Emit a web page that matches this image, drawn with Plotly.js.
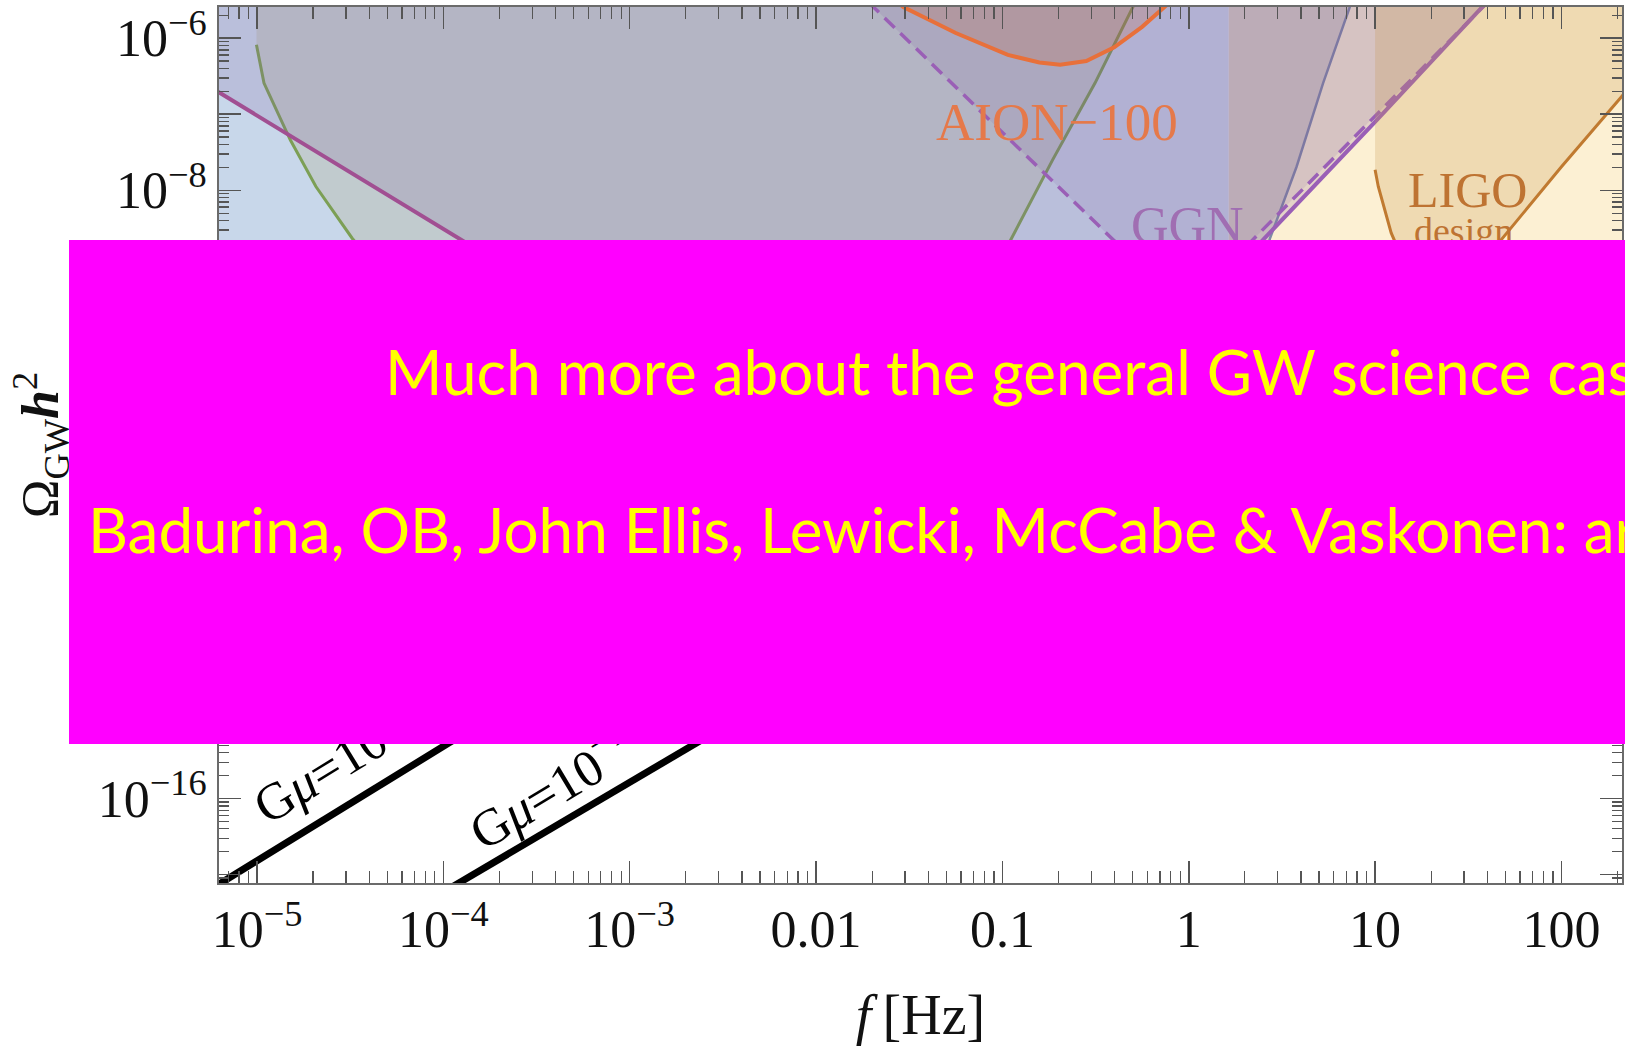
<!DOCTYPE html>
<html><head><meta charset="utf-8">
<script src="https://cdn.plot.ly/plotly-3.0.1.min.js"></script>
<style>html,body{margin:0;padding:0;background:#fff;overflow:hidden}#chart{width:1625px;height:1046px}</style>
</head><body><div id="chart"></div>
<script>
// ---------- data (frequency in Hz, Omega_GW h^2) ----------
const bandEdgeHz = 1.64;
const bandTop = 1e-5, bandBottom = 1e-13;

// green (LISA-like) sensitivity curve
const lisaF = [9.93e-6, 1.09e-5, 1.51e-5, 2.07e-5, 3.24e-5, 6.31e-5, 1.58e-4, 5.01e-4, 2.00e-3, 6.31e-3, 2.00e-2, 5.01e-2, 0.112, 0.186, 0.314, 0.504, 0.631];
const lisaO = [8.20e-7, 2.57e-7, 4.57e-8, 1.12e-8, 2.34e-9, 3.16e-10, 3.16e-11, 3.98e-12, 1.26e-12, 1e-12, 2.51e-12, 5.01e-11, 2.34e-9, 2.51e-8, 2.57e-7, 2.57e-6, 7.94e-6];

// purple broad sensitivity (left and right branches)
const purpleLeftF = [5.01e-6, 6.31e-6, 1.20e-4, 1e-3, 1e-2, 3.98e-2, 0.1];
const purpleLeftO = [2.69e-7, 1.91e-7, 2.34e-9, 1e-10, 3.16e-12, 6.31e-13, 3.98e-13];
const purpleRightF = [0.1, 0.316, 1, 2.51, 10, 38.0, 63.1];
const purpleRightO = [3.98e-13, 1e-11, 2.0e-10, 2.24e-9, 7.94e-8, 2.57e-6, 1e-5];

// GGN (dashed)
const ggnF = [1.58e-2, 2.03e-2, 0.1, 0.393, 0.955, 2.21, 10, 37.9, 50.1];
const ggnO = [4.68e-6, 2.57e-6, 5.75e-8, 2.24e-9, 2.75e-10, 2.24e-9, 9.55e-8, 2.57e-6, 5.13e-6];

// AION-100
const aion100F = [2.51e-2, 2.94e-2, 5.62e-2, 0.107, 0.158, 0.204, 0.282, 0.398, 0.562, 0.746, 0.832];
const aion100O = [3.55e-6, 2.57e-6, 1.17e-6, 6.03e-7, 4.79e-7, 4.47e-7, 5.01e-7, 7.59e-7, 1.41e-6, 2.57e-6, 3.31e-6];

// grey-blue curve
const greyF = [1.78, 2.24, 2.73, 3.79, 5.26, 7.33, 8.13];
const greyO = [3.16e-11, 3.98e-10, 2.34e-9, 2.04e-8, 2.57e-7, 2.57e-6, 5.37e-6];

// LIGO design
const ligoF = [10, 10.4, 12.2, 15.8, 22.4, 31.6, 47.6, 100, 210, 316];
const ligoO = [1.86e-8, 1.12e-8, 2.75e-9, 6.31e-10, 3.55e-10, 5.01e-10, 2.24e-9, 2.04e-8, 1.70e-7, 5.62e-7];

// cosmic string spectra
const string1F = [5.01e-6, 1.14e-4, 3.16e-4];
const string1O = [5.37e-18, 5.89e-16, 2.75e-15];
const string2F = [1e-4, 2.29e-3, 6.31e-3];
const string2O = [5.89e-18, 5.37e-16, 2.34e-15];

// ticks
const xTickVals = [1e-5, 1e-4, 1e-3, 1e-2, 0.1, 1, 10, 100];
const xTickText = ['10<sup>−5</sup>', '10<sup>−4</sup>', '10<sup>−3</sup>', '0.01', '0.1', '1', '10', '100'];
const yTickVals = [1e-6, 1e-7, 1e-8, 1e-9, 1e-10, 1e-11, 1e-12, 1e-13, 1e-14, 1e-15, 1e-16, 1e-17];
const yTickText = ['10<sup>−6</sup>', '', '10<sup>−8</sup>', '', '', '', '', '', '', '', '10<sup>−16</sup>', ''];

// texts
const line1Text = 'Much more about the general GW science case';
const line2Text = 'Badurina, OB, John Ellis, Lewicki, McCabe &amp; Vaskonen: arXiv';

// ---------- build ----------
function minorTicks(d0, d1) {
  const out = [];
  for (let d = d0; d <= d1; d++) for (let m = 2; m <= 9; m++) out.push(m * Math.pow(10, d));
  return out;
}
const SERIF = 'Liberation Serif, Times New Roman, serif';

function poly(xs, ys, color) {
  return {x: xs, y: ys, mode: 'none', fill: 'toself', fillcolor: color, hoverinfo: 'skip', type: 'scatter'};
}
function line(xs, ys, color, width, dash) {
  return {x: xs, y: ys, mode: 'lines', line: {color: color, width: width, dash: dash || 'solid'}, hoverinfo: 'skip', type: 'scatter'};
}

const traces = [];
// backgrounds
traces.push(poly([1e-7, bandEdgeHz, bandEdgeHz, 1e-7], [bandTop, bandTop, bandBottom, bandBottom], 'rgb(200,215,234)'));
traces.push(poly([bandEdgeHz, 1e4, 1e4, bandEdgeHz], [bandTop, bandTop, bandBottom, bandBottom], 'rgb(252,240,211)'));
// green region
traces.push(poly([lisaF[0]].concat(lisaF, [lisaF[lisaF.length - 1]]), [bandTop].concat(lisaO, [bandTop]), 'rgba(165,150,80,0.175)'));
traces.push(line(lisaF, lisaO, '#7c9f55', 3));
// grey-blue region
traces.push(poly([bandEdgeHz, bandEdgeHz].concat(greyF, [greyF[greyF.length - 1]]), [bandTop, greyO[0]].concat(greyO, [bandTop]), 'rgba(75,82,137,0.2)'));
traces.push(line(greyF, greyO, '#7f8aa6', 2.5));
// purple region
const pF = purpleLeftF.concat(purpleRightF.slice(1));
const pO = purpleLeftO.concat(purpleRightO.slice(1));
traces.push(poly([pF[0]].concat(pF, [pF[pF.length - 1]]), [bandTop].concat(pO, [bandTop]), 'rgba(130,95,160,0.2)'));
traces.push(line(purpleLeftF, purpleLeftO, '#a14f92', 4));
traces.push(line(purpleRightF, purpleRightO, '#9a5fb6', 4));
// GGN
traces.push(poly(ggnF, ggnO, 'rgba(110,60,150,0.1)'));
traces.push(line(ggnF, ggnO, '#9a5fb6', 3.5, '14px,8px'));
// AION-100
traces.push(poly(aion100F, aion100O, 'rgba(200,92,45,0.2)'));
traces.push(line(aion100F, aion100O, '#e8703a', 4));
// LIGO
traces.push(poly([ligoF[0]].concat(ligoF, [ligoF[ligoF.length - 1]]), [bandTop].concat(ligoO, [bandTop]), 'rgba(200,150,80,0.25)'));
traces.push(line(ligoF, ligoO, '#c07a30', 3));
// cosmic strings
traces.push(line(string1F, string1O, '#000', 7));
traces.push(line(string2F, string2O, '#000', 7));

const annotations = [
  {text: 'AION−100', xref: 'paper', yref: 'paper', x: 0.5976, y: 0.8682, xanchor: 'center', yanchor: 'middle', showarrow: false, font: {family: SERIF, size: 53, color: '#e5794a'}},
  {text: 'GGN', xref: 'paper', yref: 'paper', x: 0.6903, y: 0.7511, xanchor: 'center', yanchor: 'middle', showarrow: false, font: {family: SERIF, size: 52, color: '#a06eb2'}},
  {text: 'LIGO', xref: 'paper', yref: 'paper', x: 0.8899, y: 0.7915, xanchor: 'center', yanchor: 'middle', showarrow: false, font: {family: SERIF, size: 50, color: '#be7332'}},
  {text: 'design', xref: 'paper', yref: 'paper', x: 0.8867, y: 0.7440, xanchor: 'center', yanchor: 'middle', showarrow: false, font: {family: SERIF, size: 38, color: '#be7332'}},
  {text: 'G<i>μ</i>=10<sup>−17</sup>', xref: 'paper', yref: 'paper', x: 0.0885, y: 0.1462, xanchor: 'center', yanchor: 'middle', textangle: -31.5, showarrow: false, font: {family: SERIF, size: 52, color: '#000'}},
  {text: 'G<i>μ</i>=10<sup>−19</sup>', xref: 'paper', yref: 'paper', x: 0.2420, y: 0.1160, xanchor: 'center', yanchor: 'middle', textangle: -31, showarrow: false, font: {family: SERIF, size: 52, color: '#000'}},
  {text: ' ', xref: 'paper', yref: 'paper', x: -0.1069, y: 0.7340, xanchor: 'left', yanchor: 'top', width: 1580, height: 504, bgcolor: '#FF00FF', borderpad: 0, borderwidth: 0, showarrow: false},
  {text: line1Text, xref: 'paper', yref: 'paper', x: 0.1169, y: 0.5845, xanchor: 'left', yanchor: 'middle', showarrow: false, font: {family: 'Lato, sans-serif', size: 62, color: '#FFFF00'}},
  {text: line2Text, xref: 'paper', yref: 'paper', x: -0.0948, y: 0.4041, xanchor: 'left', yanchor: 'middle', showarrow: false, font: {family: 'Lato, sans-serif', size: 62, color: '#FFFF00'}}
];

const axisCommon = {
  type: 'log', tickmode: 'array', ticks: 'inside', tickwidth: 1.5, tickcolor: '#555',
  showline: true, linecolor: '#6b6b6b', linewidth: 2, mirror: 'allticks',
  showgrid: false, zeroline: false, automargin: false, fixedrange: true,
  tickfont: {family: SERIF, size: 52, color: '#111'}
};

const layout = {
  width: 1625, height: 1046,
  margin: {l: 219, r: 3, t: 7, b: 163, pad: 0},
  paper_bgcolor: '#ffffff', plot_bgcolor: '#ffffff',
  showlegend: false,
  font: {family: SERIF, color: '#111'},
  xaxis: Object.assign({}, axisCommon, {
    range: [-5.204, 2.325], tickvals: xTickVals, ticktext: xTickText, ticklen: 22,
    minor: {tickmode: 'array', tickvals: minorTicks(-6, 2), ticks: 'inside', ticklen: 12, tickwidth: 1.3, tickcolor: '#555', showgrid: false},
    title: {text: '<i>f</i>\u2009[Hz]', font: {family: SERIF, size: 56, color: '#111'}, standoff: 42}
  }),
  yaxis: Object.assign({}, axisCommon, {
    range: [-17.11, -5.59], tickvals: yTickVals, ticktext: yTickText, ticklen: 22,
    minor: {tickmode: 'array', tickvals: minorTicks(-18, -6), ticks: 'inside', ticklen: 10, tickwidth: 1.3, tickcolor: '#555', showgrid: false},
    title: {text: 'Ω<sub>GW</sub><b><i>h</i></b><sup>2</sup>', font: {family: SERIF, size: 52, color: '#111'}, standoff: 22}
  }),
  annotations: annotations
};

Plotly.newPlot('chart', traces, layout, {staticPlot: true, displayModeBar: false});
</script></body></html>
